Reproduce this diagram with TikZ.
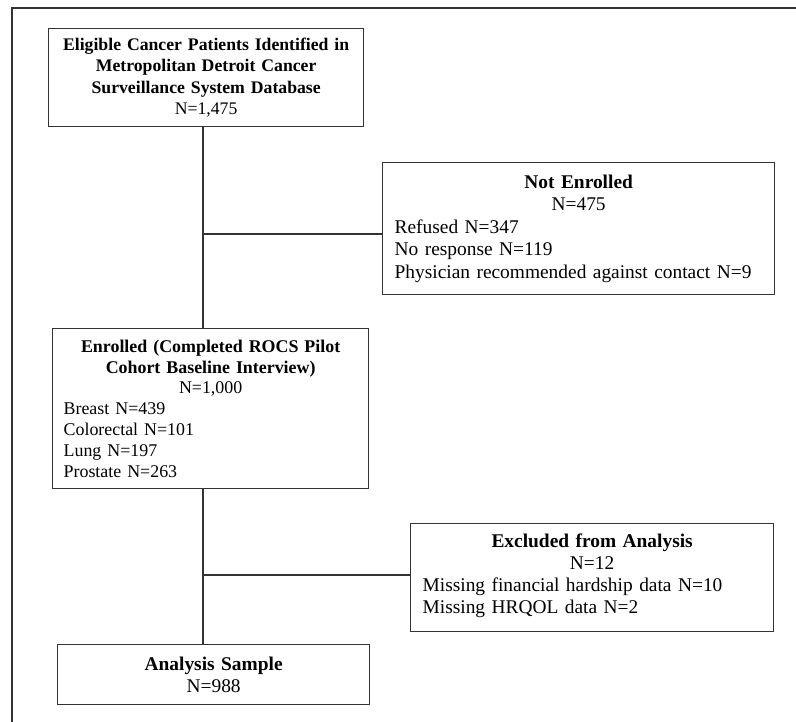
\documentclass[tikz,border=0pt]{standalone}
\usepackage{fontspec}
\setmainfont{Liberation Serif}

\begin{document}
\begin{tikzpicture}[x=1pt,y=-1pt,
  flowbox/.style={draw=black!80, line width=1.3pt, inner sep=0pt, anchor=north west,
    font=\fontsize{19.4}{22.5}\selectfont},
  smallbox/.style={flowbox, font=\fontsize{17.7}{21.5}\selectfont},
  link/.style={draw=black!80, line width=1.3pt}]
\useasboundingbox (0,0) rectangle (796,722);
\draw[black!80, line width=2pt] (796,8) -- (12,8) -- (12,722);
\node[smallbox, minimum width=315pt, minimum height=98pt, text width=315pt, align=center] (elig) at (48,28)
  {\textbf{Eligible Cancer Patients Identified in}\\\textbf{Metropolitan Detroit Cancer}\\\textbf{Surveillance System Database}\\N=1,475};
\node[flowbox, minimum width=392pt, minimum height=132pt, text width=368pt] (notenr) at (382,162)
  {{\centering\textbf{Not Enrolled}\\N=475\par}
   Refused N=347\\No response N=119\\Physician recommended against contact N=9};
\node[smallbox, minimum width=316pt, minimum height=160pt, text width=294pt,
      font=\fontsize{17.9}{20.8}\selectfont] (enr) at (52,328)
  {{\centering\textbf{Enrolled (Completed ROCS Pilot}\\\textbf{Cohort Baseline Interview)}\\N=1,000\par}
   Breast N=439\\Colorectal N=101\\Lung N=197\\Prostate N=263};
\node[flowbox, minimum width=363pt, minimum height=108pt, text width=339pt,
      font=\fontsize{19.4}{22}\selectfont] (excl) at (410,523)
  {{\centering\textbf{Excluded from Analysis}\\N=12\par}
   Missing financial hardship data N=10\\Missing HRQOL data N=2\vspace{3pt}};
\node[flowbox, minimum width=312pt, minimum height=60pt, text width=312pt, align=center] (anal) at (57,644)
  {\textbf{Analysis Sample}\\N=988};
\coordinate (b1) at (203,234);
\coordinate (b2) at (203,575);
\draw[link] (elig.south -| b1) -- (enr.north -| b1);
\draw[link] (enr.south -| b2) -- (anal.north -| b2);
\draw[link] (b1) -- (b1 -| notenr.west);
\draw[link] (b2) -- (b2 -| excl.west);
\end{tikzpicture}
\end{document}
